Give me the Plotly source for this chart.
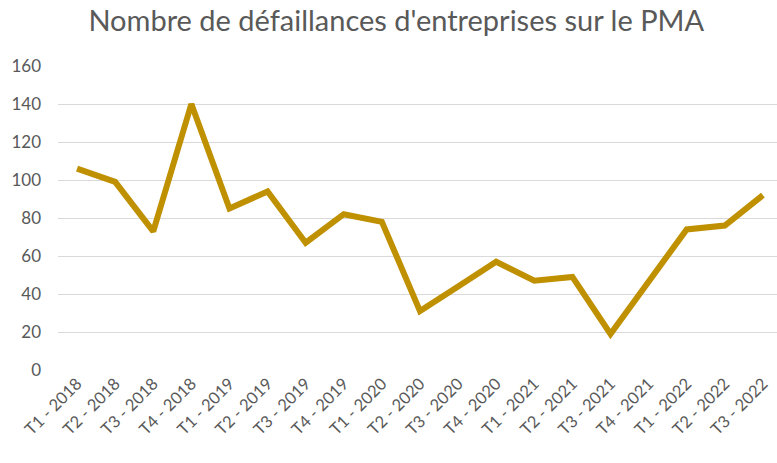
import plotly.graph_objects as go

categories = ["T1 - 2018", "T2 - 2018", "T3 - 2018", "T4 - 2018",
              "T1 - 2019", "T2 - 2019", "T3 - 2019", "T4 - 2019",
              "T1 - 2020", "T2 - 2020", "T3 - 2020", "T4 - 2020",
              "T1 - 2021", "T2 - 2021", "T3 - 2021", "T4 - 2021",
              "T1 - 2022", "T2 - 2022", "T3 - 2022"]
values = [106, 99, 73, 140, 85, 94, 67, 82, 78, 31, 44, 57, 47, 49, 19, 47, 74, 76, 92]
y_ticks = [0, 20, 40, 60, 80, 100, 120, 140, 160]

idx = list(range(len(categories)))

fig = go.Figure(go.Scatter(
    x=idx, y=values, mode="lines",
    line=dict(color="#BF9000", width=6),
    hoverinfo="skip",
))

fig.update_layout(
    width=777, height=463,
    margin=dict(l=58, r=0, t=66, b=93),
    paper_bgcolor="white", plot_bgcolor="white",
    showlegend=False,
    title=dict(text="Nombre de défaillances d'entreprises sur le PMA",
               x=0.51, xanchor="center", y=0.976, yanchor="top",
               font=dict(family="Lato", size=29, color="#595959")),
    font=dict(family="Lato", color="#595959"),
)
fig.update_xaxes(
    range=[-0.5, 18.37],
    tickmode="array", tickvals=idx, ticktext=categories,
    tickangle=-45, tickfont=dict(size=16.5, color="#595959"),
    showgrid=False, zeroline=False, showline=False, ticks="",
    automargin=False, fixedrange=True,
)
fig.update_yaxes(
    range=[0, 160], tickmode="array", tickvals=y_ticks,
    tickfont=dict(size=17, color="#595959"),
    showgrid=True, gridcolor="#D9D9D9", gridwidth=1,
    zeroline=False, showline=False, ticks="", ticklabelstandoff=16,
    automargin=False, fixedrange=True,
)

fig.write_html(
    "out.html",
    config={"displayModeBar": False},
    post_script="document.body.style.margin='0';document.body.style.overflow='hidden';",
)
